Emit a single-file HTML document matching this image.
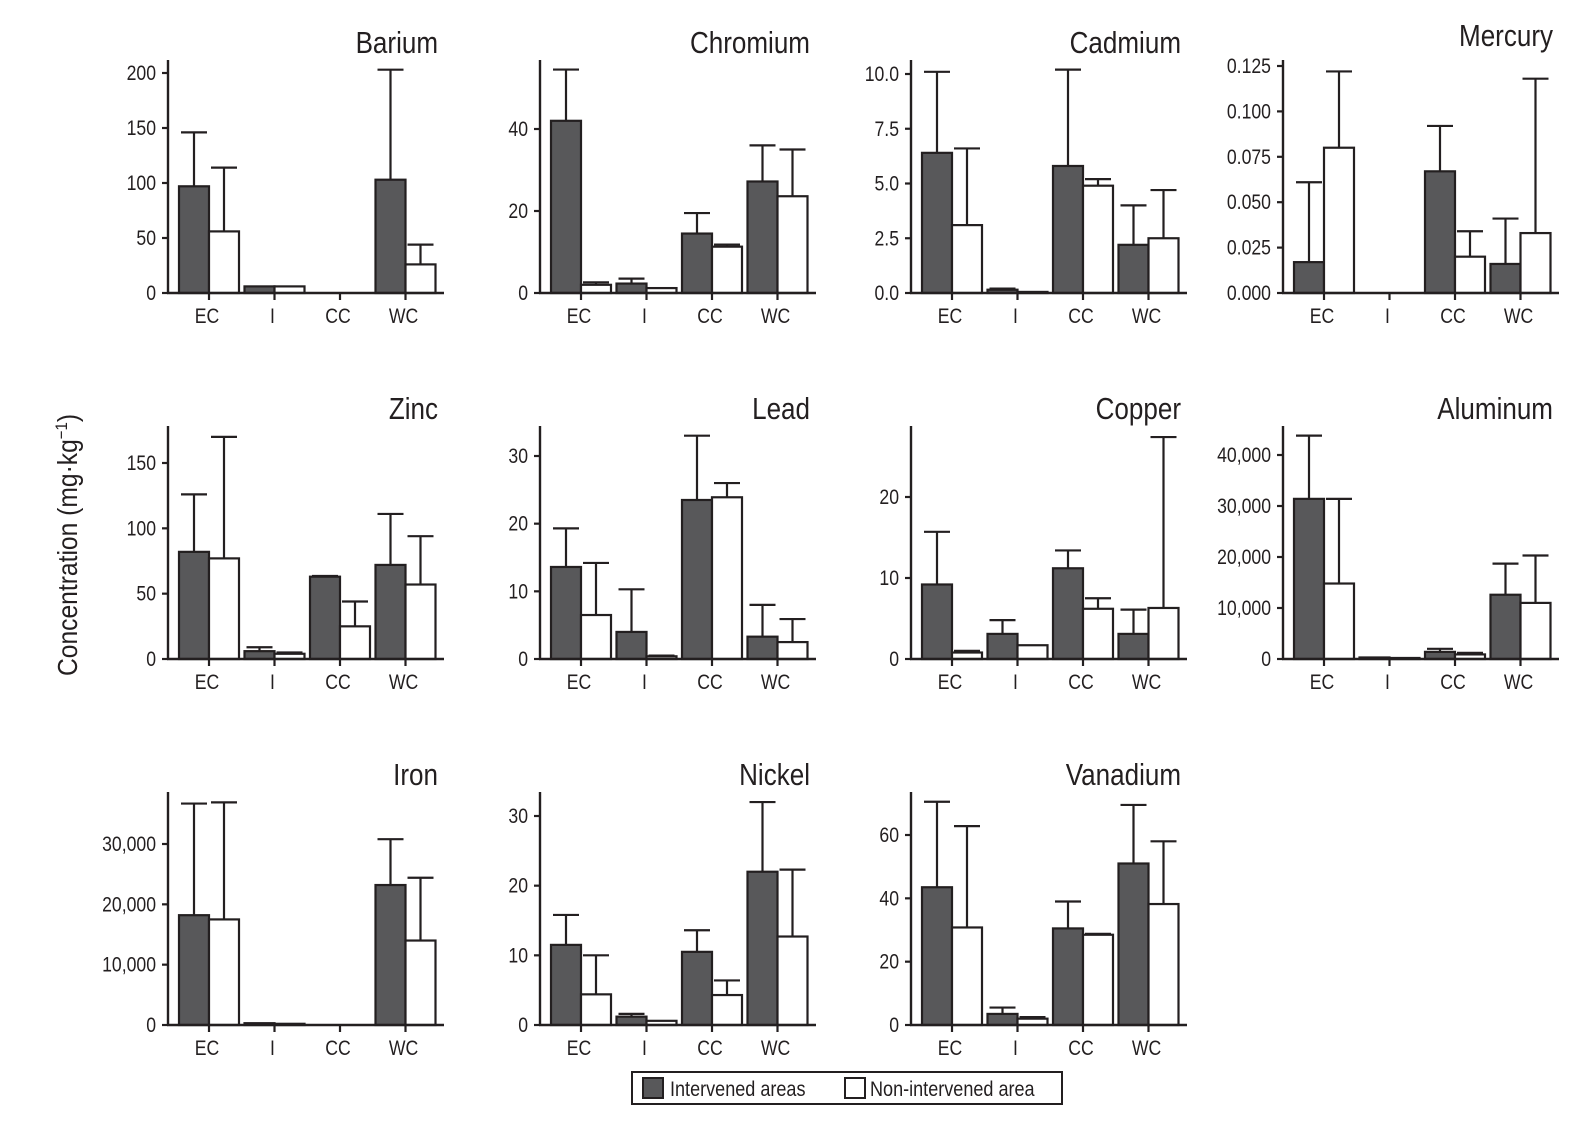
<!DOCTYPE html>
<html><head><meta charset="utf-8">
<style>
html,body{margin:0;padding:0;background:#fff;}
svg text{font-family:"Liberation Sans Narrow","Liberation Sans",sans-serif;fill:#231f20;}
</style></head>
<body>
<svg id="chart" width="1575" height="1121" viewBox="0 0 1575 1121" xmlns="http://www.w3.org/2000/svg">
<text transform="translate(77,545) rotate(-90) scale(0.88,1)" text-anchor="middle" font-size="28">Concentration (mg·kg<tspan dy="-10" font-size="17">−1</tspan><tspan dy="10">)</tspan></text>
<g>
<rect x="632" y="1072" width="430" height="32" fill="none" stroke="#231f20" stroke-width="2"/>
<rect x="643" y="1078" width="20" height="20" fill="#58585a" stroke="#231f20" stroke-width="2"/>
<text transform="translate(670,1096) scale(0.86,1)" font-size="21">Intervened areas</text>
<rect x="845" y="1078" width="20" height="20" fill="#fff" stroke="#231f20" stroke-width="2"/>
<text transform="translate(870,1096) scale(0.86,1)" font-size="21">Non-intervened area</text>
</g>
</svg>
<script>
const categories = ["EC","I","CC","WC"];
const panelNames = ["Barium","Chromium","Cadmium","Mercury","Zinc","Lead","Copper","Aluminum","Iron","Nickel","Vanadium"];
const intervened = [
 [97,6,0,103],[42,2.3,14.5,27.2],[6.4,0.15,5.8,2.2],[0.017,0,0.067,0.016],
 [82,6,63,72],[13.6,4,23.5,3.3],[9.2,3.1,11.2,3.1],[31400,300,1400,12600],
 [18200,300,0,23200],[11.5,1.2,10.5,22],[43.5,3.5,30.5,51]];
const intervenedErr = [
 [146,null,null,203],[54.5,3.5,19.5,36],[10.1,0.2,10.2,4.0],[0.061,null,0.092,0.041],
 [126,9,63.5,111],[19.3,10.3,33,8],[15.7,4.8,13.4,6.1],[43800,null,2000,18700],
 [36700,null,null,30800],[15.8,1.6,13.6,32],[70.5,5.5,39,69.5]];
const nonIntervened = [
 [56,6,0,26],[2,1.2,11.3,23.6],[3.1,0.05,4.9,2.5],[0.080,0,0.020,0.033],
 [77,4,25,57],[6.5,0.4,23.9,2.5],[0.8,1.7,6.2,6.3],[14800,200,900,11000],
 [17500,200,0,14000],[4.4,0.6,4.3,12.7],[30.8,2,28.5,38.2]];
const nonIntervenedErr = [
 [114,null,null,44],[2.6,null,11.8,35],[6.6,null,5.2,4.7],[0.122,null,0.034,0.118],
 [170,5,44,94],[14.2,0.5,26,5.9],[1.0,null,7.5,27.4],[31400,null,1200,20300],
 [36900,null,null,24400],[10,null,6.4,22.3],[62.8,2.5,28.8,58]];
const tickValues = [
 [0,50,100,150,200],[0,20,40],[0,2.5,5,7.5,10],[0,0.025,0.05,0.075,0.1,0.125],
 [0,50,100,150],[0,10,20,30],[0,10,20],[0,10000,20000,30000,40000],
 [0,10000,20000,30000],[0,10,20,30],[0,20,40,60]];
const tickLabels = [
 ["0","50","100","150","200"],["0","20","40"],["0.0","2.5","5.0","7.5","10.0"],["0.000","0.025","0.050","0.075","0.100","0.125"],
 ["0","50","100","150"],["0","10","20","30"],["0","10","20"],["0","10,000","20,000","30,000","40,000"],
 ["0","10,000","20,000","30,000"],["0","10","20","30"],["0","20","40","60"]];
// pixel height of top tick above baseline (layout)
const topTickPx = [220,164,219,227,196,203,162,204,181,209,190];

const NS="http://www.w3.org/2000/svg";
const svg=document.getElementById('chart');
function mk(tag,attrs,parent){const e=document.createElementNS(NS,tag);for(const k in attrs)e.setAttribute(k,attrs[k]);parent.appendChild(e);return e;}
function txt(x,y,anchor,size,sx,parent){return mk('text',{transform:`translate(${x},${y}) scale(${sx},1)`,'text-anchor':anchor,'font-size':size},parent);}
const axisXs=[168,540,911,1283];
const baseYs=[293,659,1025];
const groupOff=[41,106.5,172,237.5];
const bw=30;
for(let p=0;p<panelNames.length;p++){
  const col=p%4,row=Math.floor(p/4);
  const ax=axisXs[col],by=baseYs[row];
  const tv=tickValues[p];
  const yScale=v=>by-v/tv[tv.length-1]*topTickPx[p];
  const g=mk('g',{},svg);
  
  
  const t=txt(ax+270,(p===3?by-247:by-240),'end',31,0.84,g);
  
  
  t.textContent=panelNames[p];
  for(let i=0;i<4;i++){
    const cx=ax+groupOff[i];
    const series=[[intervened,intervenedErr,'#58585a',cx-bw],[nonIntervened,nonIntervenedErr,'#ffffff',cx]];
    series.forEach((s,si)=>{
      const v=s[0][p][i],e=s[1][p][i],x0=s[3];
      if(e!=null&&e>v){
        const mx=x0+bw/2;
        const l=mk('path',{d:`M${mx},${yScale(v)}V${yScale(e)}M${mx-13},${yScale(e)}H${mx+13}`,stroke:'#231f20','stroke-width':2.2,fill:'none'},g);
        
        
      }
      if(v>0){
        const r=mk('rect',{x:x0,y:yScale(v),width:bw,height:by-yScale(v),fill:s[2],stroke:'#231f20','stroke-width':2.2},g);
        
        
      }
    });
    const tk=mk('line',{x1:cx,x2:cx,y1:by,y2:by+7,stroke:'#231f20','stroke-width':2.2},g);
    
    
    const lb=txt(cx-2,by+30,'middle',21,0.84,g);
    
    
    lb.textContent=categories[i];
  }
  const yax=mk('line',{x1:ax,x2:ax,y1:by,y2:by-233,stroke:'#231f20','stroke-width':2.4},g);
  
  
  const xax=mk('line',{x1:ax-1,x2:ax+276,y1:by,y2:by,stroke:'#231f20','stroke-width':2.4},g);
  
  
  tv.forEach((v,k)=>{
    const y=yScale(v);
    const tl=mk('line',{x1:ax-6,x2:ax,y1:y,y2:y,stroke:'#231f20','stroke-width':2.2},g);
    
    
    const tt=txt(ax-12,y+7,'end',21,0.84,g);
    
    
    tt.textContent=tickLabels[p][k];
  });
}
</script>
</body></html>
